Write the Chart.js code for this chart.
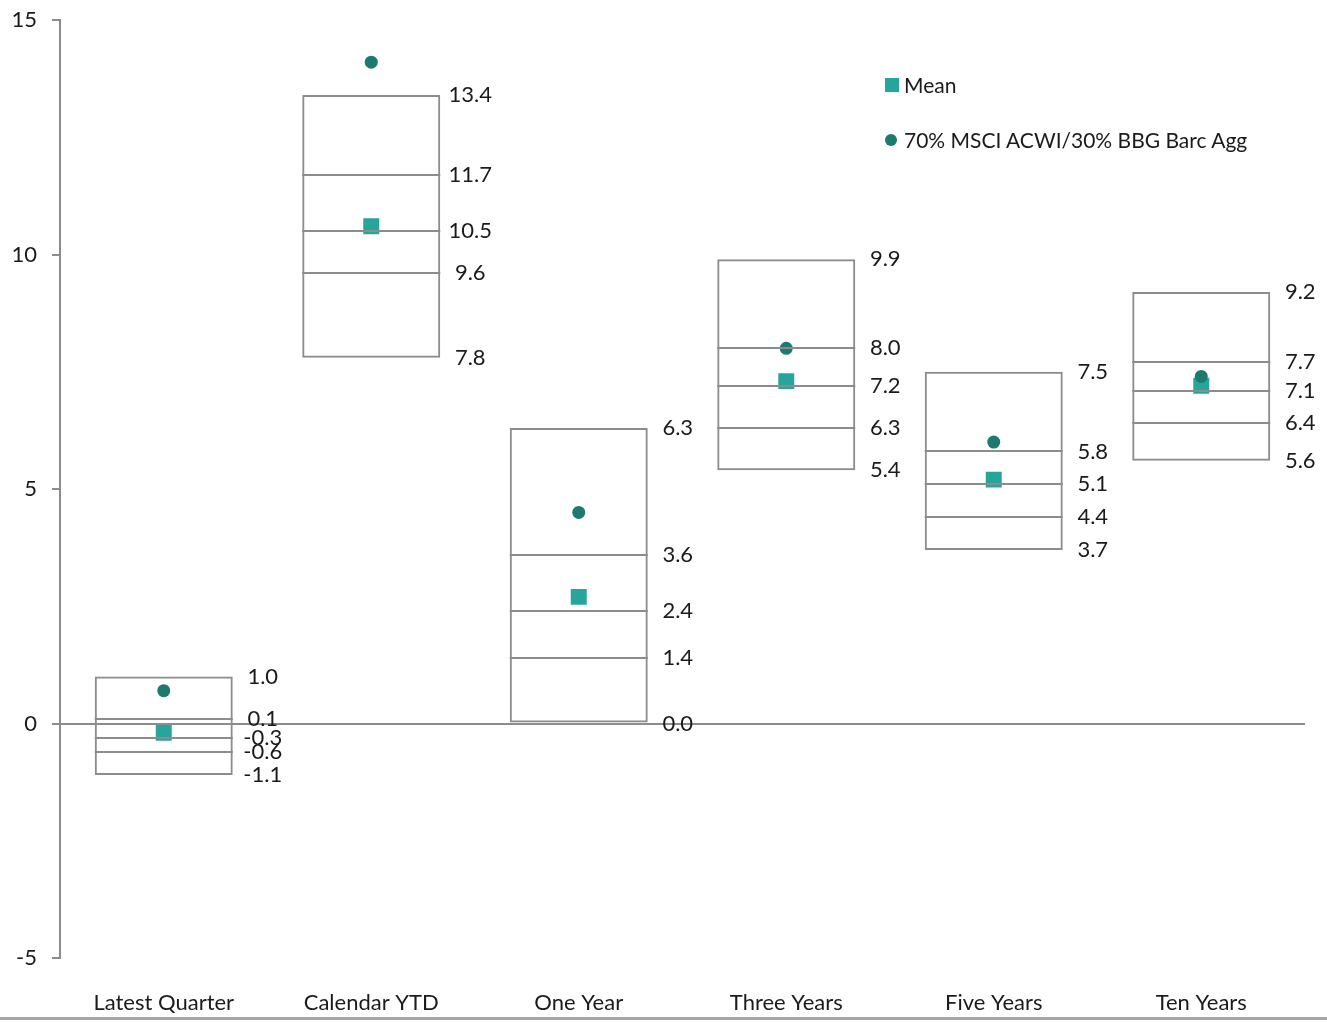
<!DOCTYPE html>
<html>
<head>
<meta charset="utf-8">
<script src="https://cdn.jsdelivr.net/npm/chart.js@4/dist/chart.umd.min.js"></script>
<style>
  html, body { margin: 0; padding: 0; background: #fff; }
  #wrap { position: relative; width: 1327px; height: 1022px; overflow: hidden; }
  #c { position: absolute; left: 0; top: 0; }
  .leg { position: absolute; font-family: Lato, "Open Sans", sans-serif; font-size: 21px; color: #1a1a1a; white-space: nowrap; line-height: 26px; }
  .sq { position: absolute; width: 14px; height: 14px; background: #26A69A; }
  .dot { position: absolute; width: 12px; height: 12px; border-radius: 50%; background: #1D7A6F; }
  #bottomline { position: absolute; left: 0; top: 1017px; width: 1327px; height: 3px; background: #a6a6a6; }
</style>
</head>
<body>
<div id="wrap">
  <canvas id="c" width="1327" height="1022"></canvas>
  <div class="sq" style="left:885px; top:78px;"></div>
  <div class="leg" style="left:904px; top:72px;">Mean</div>
  <div class="dot" style="left:885px; top:134px;"></div>
  <div class="leg" style="left:904px; top:127px;">70% MSCI ACWI/30% BBG Barc Agg</div>
  <div id="bottomline"></div>
</div>
<script>
const categories = ["Latest Quarter", "Calendar YTD", "One Year", "Three Years", "Five Years", "Ten Years"];
const p95 = [1.0, 13.4, 6.3, 9.9, 7.5, 9.2];
const p75 = [0.1, 11.7, 3.6, 8.0, 5.8, 7.7];
const median = [-0.3, 10.5, 2.4, 7.2, 5.1, 7.1];
const p25 = [-0.6, 9.6, 1.4, 6.3, 4.4, 6.4];
const p5 = [-1.1, 7.8, 0.0, 5.4, 3.7, 5.6];
const meanValues = [-0.2, 10.6, 2.7, 7.3, 5.2, 7.2];
const benchmarkValues = [0.7, 14.1, 4.5, 8.0, 6.0, 7.4];
const yTicks = [-5, 0, 5, 10, 15];

const FONT = 'Lato, "Open Sans", sans-serif';
const GRAY = '#8c8c8c';

const boxPlugin = {
  id: 'boxLinesLabels',
  afterDatasetsDraw(chart) {
    const ctx = chart.ctx;
    const y = chart.scales.y;
    const meta = chart.getDatasetMeta(0);
    ctx.save();
    ctx.strokeStyle = GRAY;
    ctx.lineWidth = 2;
    categories.forEach((c, i) => {
      const el = meta.data[i];
      const l = el.x - el.width / 2, r = el.x + el.width / 2;
      [p75, median, p25].forEach(s => {
        const py = Math.round(y.getPixelForValue(s[i]));
        ctx.beginPath();
        ctx.moveTo(l, py);
        ctx.lineTo(r, py);
        ctx.stroke();
      });
    });
    ctx.font = '22px ' + FONT;
    ctx.fillStyle = '#1a1a1a';
    ctx.textAlign = 'center';
    ctx.textBaseline = 'middle';
    const sets = [p95, p75, median, p25, p5];
    categories.forEach((c, i) => {
      const el = meta.data[i];
      const cx = el.x + el.width / 2 + 30;
      sets.forEach(s => {
        ctx.fillText(s[i].toFixed(1), cx, y.getPixelForValue(s[i]));
      });
    });
    ctx.restore();
  }
};

new Chart(document.getElementById('c'), {
  type: 'bar',
  data: {
    labels: categories,
    datasets: [
      { label: 'Range', data: categories.map((_, i) => [p5[i], p95[i]]),
        backgroundColor: 'rgba(0,0,0,0)', borderColor: GRAY, borderWidth: 2, borderSkipped: false,
        barPercentage: 0.665, categoryPercentage: 1.0, order: 3 },
      { type: 'line', label: 'Mean', data: meanValues, showLine: false, pointStyle: 'rect',
        pointRadius: 11.3, pointHoverRadius: 11.3, backgroundColor: '#26A69A', borderColor: '#26A69A', borderWidth: 0, order: 1 },
      { type: 'line', label: '70% MSCI ACWI/30% BBG Barc Agg', data: benchmarkValues, showLine: false, pointStyle: 'circle',
        pointRadius: 6.5, pointHoverRadius: 6.5, backgroundColor: '#1D7A6F', borderColor: '#1D7A6F', borderWidth: 0, order: 0 }
    ]
  },
  options: {
    responsive: false,
    animation: false,
    devicePixelRatio: 1,
    layout: { padding: { left: 0, right: 22, top: 20, bottom: 0 } },
    plugins: { legend: { display: false }, tooltip: { enabled: false } },
    scales: {
      x: {
        grid: { display: false, drawTicks: false },
        border: { display: false },
        ticks: { font: { family: FONT, size: 22 }, color: '#1a1a1a', padding: 32, maxRotation: 0 },
        afterFit(axis) { axis.height = 64; }
      },
      y: {
        min: -5, max: 15,
        afterBuildTicks(axis) { axis.ticks = yTicks.map(v => ({ value: v })); },
        grid: {
          color: c => (c.tick && c.tick.value === 0) ? GRAY : 'rgba(0,0,0,0)',
          lineWidth: 2, tickColor: GRAY, tickLength: 8, drawTicks: true
        },
        border: { display: true, color: GRAY, width: 2 },
        ticks: { font: { family: FONT, size: 22 }, color: '#1a1a1a', padding: 15 },
        afterFit(axis) { axis.width = 60; axis.paddingTop = 0; axis.paddingBottom = 0; }
      }
    }
  },
  plugins: [boxPlugin]
});
</script>
</body>
</html>
